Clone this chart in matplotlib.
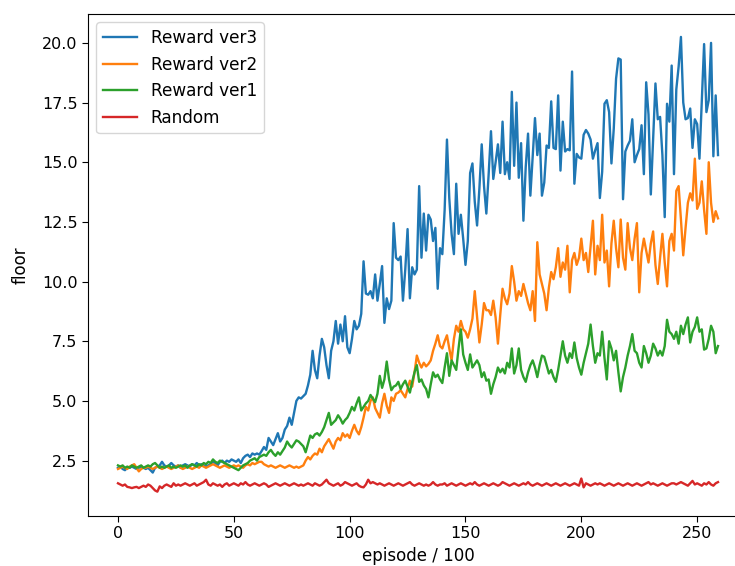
import numpy as np
import matplotlib
matplotlib.use("Agg")
import matplotlib.pyplot as plt

# values, one per episode bucket (0..259)
reward_ver3 = [
    2.2, 2.25, 2.15, 2.1, 2.2, 2.2, 2.25, 2.2, 2.15, 2.2,
    2.25, 2.2, 2.15, 2.2, 2.1, 2.0, 2.2, 2.25, 2.3, 2.45,
    2.3, 2.25, 2.3, 2.4, 2.3, 2.25, 2.3, 2.2, 2.3, 2.35,
    2.3, 2.25, 2.35, 2.3, 2.4, 2.3, 2.35, 2.3, 2.25, 2.3,
    2.35, 2.45, 2.4, 2.3, 2.45, 2.5, 2.4, 2.5, 2.45, 2.55,
    2.5, 2.45, 2.55, 2.4, 2.6, 2.7, 2.75, 2.65, 2.8, 2.75,
    2.8, 2.75, 2.9, 3.07, 2.95, 3.45, 3.3, 3.15, 3.4, 3.65,
    3.3, 3.45, 3.8, 3.95, 4.3, 4.0, 4.5, 5.0, 5.15, 5.1,
    5.2, 5.3, 5.65, 6.1, 7.1, 6.3, 5.95, 6.9, 7.6, 7.25,
    6.5, 5.95, 7.1, 7.5, 8.35, 7.4, 8.2, 7.5, 8.55, 7.25,
    7.0, 7.6, 8.35, 8.0, 8.15, 8.65, 10.85, 9.5, 9.45, 9.6,
    9.3, 10.3, 9.2, 9.9, 10.65, 8.27, 9.3, 8.85, 9.2, 12.45,
    11.0, 10.9, 11.05, 9.2, 10.5, 12.2, 9.3, 10.6, 10.3, 10.5,
    14.0, 11.0, 12.85, 11.3, 12.8, 12.6, 11.7, 12.25, 9.7, 11.4,
    11.15, 13.0, 15.95, 13.5, 12.0, 11.15, 14.1, 12.0, 12.8, 11.8,
    10.7, 11.7, 14.55, 14.95, 13.35, 12.35, 13.9, 15.75, 14.0, 12.85,
    14.5, 16.3, 14.3, 15.0, 15.75, 14.55, 16.7, 14.5, 15.0, 14.3,
    17.95, 14.85, 17.5, 14.35, 15.8, 12.55, 14.8, 16.2, 13.6, 15.2,
    16.85, 15.3, 16.2, 13.6, 14.15, 15.7, 15.6, 17.55, 15.6, 15.55,
    17.8, 14.65, 16.7, 15.45, 15.55, 15.5, 18.8, 14.1, 15.35, 15.2,
    15.15, 16.15, 16.35, 16.2, 15.95, 15.15, 15.5, 15.8, 13.5, 14.6,
    17.45, 17.6, 17.1, 14.95, 16.4, 18.5, 19.35, 19.3, 13.45, 15.45,
    15.7, 15.9, 16.8, 15.0, 15.3, 15.55, 16.55, 14.5, 18.35, 17.0,
    13.65, 16.0, 18.3, 16.8, 16.9, 15.3, 12.7, 17.45, 16.7, 19.05,
    14.5, 18.05, 19.0, 20.25, 17.5, 16.8, 16.85, 17.25, 15.6, 16.8,
    16.6, 15.15, 17.5, 19.95, 17.1, 17.6, 20.0, 15.25, 17.8, 15.3,
]

reward_ver2 = [
    2.15, 2.2, 2.25, 2.2, 2.15, 2.25, 2.3, 2.35, 2.2, 2.05,
    2.15, 2.2, 2.2, 2.25, 2.2, 2.15, 2.2, 2.25, 2.2, 2.15,
    2.2, 2.25, 2.2, 2.15, 2.2, 2.25, 2.3, 2.2, 2.15, 2.2,
    2.25, 2.2, 2.15, 2.2, 2.25, 2.2, 2.3, 2.25, 2.2, 2.25,
    2.3, 2.35, 2.3, 2.25, 2.2, 2.25, 2.3, 2.25, 2.2, 2.25,
    2.3, 2.25, 2.3, 2.25, 2.2, 2.3, 2.35, 2.3, 2.4, 2.35,
    2.4, 2.45, 2.45, 2.35, 2.3, 2.25, 2.3, 2.25, 2.2, 2.25,
    2.3, 2.25, 2.2, 2.25, 2.3, 2.25, 2.2, 2.25, 2.2, 2.25,
    2.3, 2.5, 2.65, 2.55, 2.7, 2.8, 2.75, 3.0, 2.85, 3.1,
    3.25, 3.4, 3.2, 3.0, 3.3, 3.45, 3.35, 3.65, 3.5, 3.6,
    3.45, 3.75, 4.0, 3.75, 3.6, 3.9, 4.3, 4.75, 4.6, 5.0,
    5.15, 4.7, 4.5, 4.3, 4.9, 5.3, 4.8, 4.5, 5.15, 5.0,
    5.3, 5.35, 5.45, 5.3, 5.15, 5.5, 5.85, 5.6, 6.2, 6.9,
    6.6, 6.4, 6.6, 6.45, 6.55, 6.7, 7.1, 7.4, 7.75, 7.3,
    7.2, 7.5, 7.75, 7.2, 6.7, 7.6, 8.15, 7.9, 8.35, 8.0,
    7.9, 7.65, 8.0, 8.45, 9.6, 8.5, 7.45, 8.2, 9.1, 8.8,
    8.8, 8.6, 9.2, 8.5, 7.4, 8.6, 9.7, 9.3, 9.05, 9.5,
    10.65, 10.0, 9.2, 9.6, 9.4, 9.9, 9.5, 9.1, 8.8, 9.6,
    8.35, 11.65, 10.3, 9.9, 9.5, 8.8, 9.75, 10.4, 10.1, 10.6,
    11.4, 10.2, 10.8, 10.5, 11.5, 9.55, 10.9, 11.2, 10.7, 11.0,
    11.8, 10.9, 11.2, 10.4, 11.5, 12.55, 10.3, 11.5, 10.9, 12.8,
    10.8, 11.3, 9.8, 11.6, 12.55, 11.4, 10.6, 12.6, 11.0, 10.5,
    12.45, 11.4, 10.9, 11.8, 12.45, 9.55, 11.2, 11.8, 11.3, 10.8,
    11.6, 12.1, 10.7, 9.9, 11.0, 12.0, 10.8, 9.8, 11.7, 12.0,
    11.3, 13.8, 14.0, 12.6, 11.1, 12.25, 13.3, 13.7, 13.4, 15.15,
    13.05, 13.3, 14.2, 13.0, 12.0, 15.0, 13.3, 12.5, 12.95, 12.65,
]

reward_ver1 = [
    2.3, 2.25, 2.3, 2.2, 2.25, 2.2, 2.3, 2.25, 2.2, 2.25,
    2.3, 2.2, 2.25, 2.3, 2.25, 2.35, 2.4, 2.3, 2.2, 2.25,
    2.2, 2.25, 2.3, 2.2, 2.25, 2.2, 2.25, 2.3, 2.25, 2.3,
    2.2, 2.3, 2.35, 2.3, 2.25, 2.35, 2.3, 2.4, 2.35, 2.45,
    2.4, 2.55, 2.45, 2.4, 2.5, 2.45, 2.4, 2.35, 2.3, 2.25,
    2.2, 2.15, 2.1, 2.2, 2.3, 2.35, 2.4, 2.5, 2.55, 2.6,
    2.5, 2.65, 2.7, 2.75, 2.7, 2.85, 2.95, 2.8, 2.7, 2.85,
    2.75, 2.9, 3.05, 3.3, 3.15, 3.05, 3.2, 3.35, 3.3, 3.2,
    3.1, 2.85, 3.2, 3.55, 3.45, 3.6, 3.65, 3.55, 3.7, 3.9,
    4.2, 4.5, 4.0, 4.1, 4.2, 4.4, 4.25, 4.05, 4.2, 4.3,
    4.5, 4.75, 4.6, 4.9, 5.15, 4.6, 4.75, 4.9, 5.0, 5.25,
    5.1, 4.95, 5.3, 6.05, 5.55, 5.9, 6.65, 5.9, 5.45, 5.6,
    5.65, 5.8, 5.5, 5.7, 5.85, 5.6, 5.35, 5.8, 6.2, 6.5,
    5.8, 5.9, 5.65, 5.5, 5.15, 5.7, 6.2, 6.0, 6.1, 5.9,
    5.75, 6.4, 7.0, 6.05, 6.7, 6.5, 6.3, 7.2, 8.0, 6.95,
    6.6, 6.3, 6.95, 6.4, 6.55, 6.7, 6.5, 6.0, 6.2, 5.85,
    5.9, 5.3, 5.7, 6.0, 6.4, 6.2, 6.35, 6.15, 6.6, 6.4,
    7.2, 6.15, 6.5, 7.2, 6.3, 6.0, 5.8, 6.2, 6.5, 6.7,
    6.4, 6.0, 6.5, 6.9, 6.85, 6.5, 6.15, 6.3, 6.0, 5.8,
    6.3, 6.9, 7.5, 6.9, 6.6, 7.0, 6.8, 7.45, 6.8, 6.4,
    6.1, 6.6, 7.0, 7.4, 8.2, 7.3, 6.6, 7.0, 6.9, 7.9,
    6.8, 5.9, 7.5, 7.2, 6.7, 7.1, 6.2, 5.4, 6.0, 6.4,
    6.9, 7.3, 7.8, 7.1, 7.0, 6.6, 6.4, 7.3, 7.0, 6.6,
    6.9, 7.4, 7.2, 6.9, 7.1, 6.9, 7.3, 8.4, 7.9, 7.8,
    7.6, 7.9, 7.4, 8.15, 7.8, 8.2, 8.5, 7.45, 7.9, 8.1,
    8.5, 7.9, 8.0, 7.15, 7.2, 7.6, 8.15, 7.9, 7.0, 7.3,
]

random_policy = [
    1.55, 1.5, 1.45, 1.5, 1.4, 1.38, 1.35, 1.38, 1.4, 1.35,
    1.4, 1.45, 1.4, 1.5, 1.45, 1.35, 1.25, 1.2, 1.42, 1.35,
    1.45, 1.5, 1.45, 1.4, 1.55, 1.45, 1.5, 1.45, 1.5, 1.55,
    1.5, 1.45, 1.5, 1.55, 1.45, 1.5, 1.55, 1.6, 1.7, 1.5,
    1.45, 1.55, 1.5, 1.45, 1.5, 1.4, 1.5, 1.55, 1.45, 1.5,
    1.55, 1.5, 1.45, 1.55, 1.5, 1.6, 1.5, 1.45, 1.5, 1.55,
    1.5, 1.45, 1.5, 1.55, 1.5, 1.4, 1.45, 1.5, 1.55, 1.5,
    1.45, 1.5, 1.55, 1.5, 1.45, 1.5, 1.55, 1.5, 1.45, 1.5,
    1.45, 1.5, 1.55, 1.5, 1.45, 1.55, 1.5, 1.45, 1.5, 1.6,
    1.7, 1.55, 1.5, 1.45, 1.5, 1.55, 1.45, 1.5, 1.6, 1.55,
    1.5, 1.45, 1.5, 1.55, 1.45, 1.4, 1.38, 1.5, 1.7, 1.55,
    1.6, 1.55, 1.5, 1.55, 1.5, 1.45, 1.5, 1.55, 1.5, 1.45,
    1.5, 1.55, 1.5, 1.45, 1.5, 1.55, 1.6, 1.5, 1.45, 1.5,
    1.55, 1.5, 1.45, 1.5, 1.45, 1.5, 1.6, 1.5, 1.45, 1.5,
    1.5, 1.55, 1.45, 1.5, 1.55, 1.5, 1.45, 1.5, 1.55, 1.5,
    1.45, 1.5, 1.55, 1.5, 1.6, 1.5, 1.45, 1.5, 1.55, 1.5,
    1.45, 1.5, 1.55, 1.5, 1.45, 1.5, 1.6, 1.55, 1.5, 1.45,
    1.5, 1.55, 1.5, 1.45, 1.5, 1.55, 1.5, 1.6, 1.5, 1.45,
    1.5, 1.55, 1.5, 1.45, 1.5, 1.55, 1.5, 1.45, 1.5, 1.55,
    1.5, 1.45, 1.5, 1.55, 1.5, 1.45, 1.5, 1.55, 1.5, 1.45,
    1.75, 1.38, 1.55, 1.5, 1.45, 1.5, 1.55, 1.5, 1.55, 1.5,
    1.45, 1.5, 1.55, 1.5, 1.45, 1.5, 1.55, 1.5, 1.45, 1.5,
    1.55, 1.5, 1.45, 1.5, 1.55, 1.5, 1.45, 1.5, 1.55, 1.6,
    1.5, 1.55, 1.5, 1.45, 1.5, 1.55, 1.5, 1.45, 1.5, 1.55,
    1.55, 1.5, 1.55, 1.6, 1.55, 1.5, 1.45, 1.55, 1.65, 1.5,
    1.55, 1.5, 1.45, 1.55, 1.5, 1.6, 1.5, 1.45, 1.55, 1.6,
]

series = [
    ("Reward ver3", reward_ver3, "#1f77b4"),
    ("Reward ver2", reward_ver2, "#ff7f0e"),
    ("Reward ver1", reward_ver1, "#2ca02c"),
    ("Random", random_policy, "#d62728"),
]

plt.rcParams["font.family"] = "DejaVu Sans"
plt.rcParams["font.size"] = 11.5
plt.rcParams["xtick.major.size"] = 4
plt.rcParams["ytick.major.size"] = 4

fig = plt.figure(figsize=(7.35, 5.66), dpi=100)
# the reference is a cropped screenshot: right spine runs off the edge
ax = fig.add_axes([88 / 735, 50 / 566, 660 / 735, 502 / 566])

episodes = np.arange(len(reward_ver3))
for label, vals, color in series:
    ax.plot(episodes, vals, color=color, linewidth=1.7, label=label)

ax.set_xlim(-12.95, 271.95)
ax.set_ylim(0.18, 21.21)
ax.set_yticks([2.5, 5.0, 7.5, 10.0, 12.5, 15.0, 17.5, 20.0])
ax.set_xlabel("episode / 100", fontsize=12, labelpad=4)
ax.set_ylabel("floor", fontsize=12, labelpad=9)
ax.legend(loc="upper left", fontsize=12.2, labelspacing=0.5)

fig.savefig("out.png", dpi=100)
